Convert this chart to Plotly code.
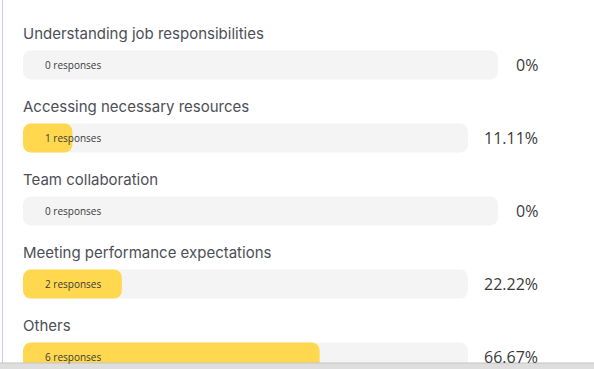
import plotly.graph_objects as go

categories = [
    "Understanding job responsibilities",
    "Accessing necessary resources",
    "Team collaboration",
    "Meeting performance expectations",
    "Others",
]
responses = [0, 1, 0, 2, 6]
percents = [0, 11.11, 0, 22.22, 66.67]
pct_labels = ["0%", "11.11%", "0%", "22.22%", "66.67%"]

# layout constants (pixel-like axis units)
W, H = 594, 369
LEFT = 23
ROW_PITCH = 73
FIRST_BAR_CENTER = 65
BAR_H = 29
LABEL_RIGHT = 539

centers = [FIRST_BAR_CENTER + i * ROW_PITCH for i in range(len(categories))]
track_w = [475 if p == 0 else 445 for p in percents]
fill_w = [p / 100 * t for p, t in zip(percents, track_w)]

fig = go.Figure()
fig.add_trace(go.Bar(
    orientation="h", y=centers, x=track_w, base=[LEFT] * len(centers),
    width=BAR_H, marker=dict(color="#f4f4f4", cornerradius=8, line=dict(width=0)),
    hoverinfo="skip", showlegend=False,
))
fig.add_trace(go.Bar(
    orientation="h", y=centers, x=fill_w, base=[LEFT] * len(centers),
    width=BAR_H, marker=dict(color="#ffd850", cornerradius=8, line=dict(width=0)),
    hoverinfo="skip", showlegend=False,
))

for cat, c, r, pl in zip(categories, centers, responses, pct_labels):
    fig.add_annotation(x=LEFT - 2, y=c - 32, text=cat, xanchor="left", yanchor="middle",
                       showarrow=False, font=dict(family="Inter", size=15, color="#4d4f55"))
    fig.add_annotation(x=LEFT + 20, y=c, text=f"{r} responses", xanchor="left", yanchor="middle",
                       showarrow=False, font=dict(family="Open Sans", size=10, color="#3a3a3a"))
    fig.add_annotation(x=LABEL_RIGHT + 1, y=c, text=pl, xanchor="right", yanchor="middle",
                       showarrow=False, font=dict(family="Open Sans", size=16, color="#3a3a3a"))

fig.add_shape(type="line", xref="paper", yref="paper", x0=2.5 / W, x1=2.5 / W, y0=0, y1=1,
              line=dict(color="#c8ccf4", width=1), layer="above")
fig.add_shape(type="rect", xref="paper", yref="paper", x0=0, x1=1, y0=0, y1=6 / H,
              fillcolor="#dedede", line=dict(width=0), layer="above")
fig.add_shape(type="line", xref="paper", yref="paper", x0=0, x1=1, y0=6 / H, y1=6 / H,
              line=dict(color="#c4c4c4", width=1), layer="above")

fig.update_layout(
    width=W, height=H, autosize=False,
    margin=dict(l=0, r=0, t=0, b=0),
    paper_bgcolor="white", plot_bgcolor="white",
    barmode="overlay",
    xaxis=dict(range=[0, W], visible=False, fixedrange=True),
    yaxis=dict(range=[H, 0], visible=False, fixedrange=True),
)

fig.write_html(
    "out.html",
    config={"displayModeBar": False},
    post_script="document.body.style.margin='0';document.body.style.overflow='hidden';",
)
